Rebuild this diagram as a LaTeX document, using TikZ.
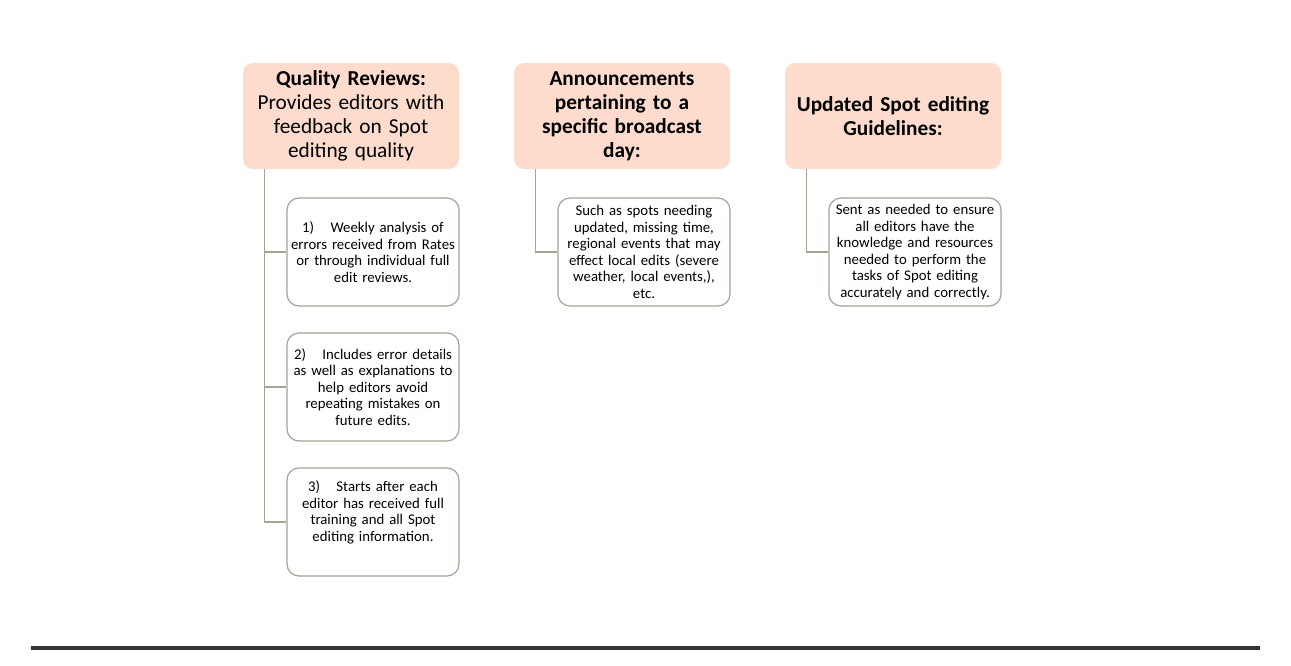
\documentclass[tikz,border=0pt]{standalone}
\usepackage{fontspec}
\setmainfont{Carlito}
\usepackage{xcolor}
\usetikzlibrary{positioning}

\definecolor{peach}{RGB}{253,220,206}
\definecolor{rim}{RGB}{166,162,148}
\definecolor{rule}{RGB}{51,51,51}
\hyphenpenalty=10000
\exhyphenpenalty=10000

\begin{document}
\begin{tikzpicture}[
    x=1pt, y=-1pt,
    header/.style={rectangle, rounded corners=10pt, fill=peach, minimum width=216pt, minimum height=106pt, text width=214pt, align=center, inner sep=0pt, font=\fontsize{21.3}{24}\selectfont},
    item/.style={draw=rim, line width=1.2pt, rectangle, rounded corners=12pt, fill=white, minimum width=172pt, minimum height=108pt, text width=170pt, align=center, inner sep=0pt, font=\fontsize{14.8}{16.5}\selectfont},
    link/.style={draw=rim, line width=1.2pt}
]
\useasboundingbox (0,0) rectangle (1291,665);

\node[header] (qual) at (351,116) {\textbf{Quality Reviews:}\\ Provides editors with\\ feedback on Spot\\ editing quality};
\node[header] (anno) at (622,116) {\textbf{Announcements}\\ \textbf{pertaining to a}\\ \textbf{specific broadcast}\\ \textbf{day:}};
\node[header] (guide) at (893,116) {\textbf{Updated Spot editing}\\ \textbf{Guidelines:}};

\node[item] (q1) at (373,252) {1)\hspace{1.1em}Weekly analysis of\\ errors received from Rates\\ or through individual full\\ edit reviews.};
\node[item] (q2) at (373,387) {2)\hspace{1.1em}Includes error details\\ as well as explanations to\\ help editors avoid\\ repeating mistakes on\\ future edits.};
\node[item] (q3) at (373,522) {3)\hspace{1.1em}Starts after each\\ editor has received full\\ training and all Spot\\ editing information.\\ \strut};
\node[item] (a1) at (644,252) {Such as spots needing\\ updated, missing time,\\ regional events that may\\ effect local edits (severe\\ weather, local events,),\\ etc.};
\node[item] (g1) at (915,252) {Sent as needed to ensure\\ all editors have the\\ knowledge and resources\\ needed to perform the\\ tasks of Spot editing\\ accurately and correctly.};

\draw[link] ([xshift=22pt]qual.south west) |- (q1.west);
\draw[link] ([xshift=22pt]qual.south west) |- (q2.west);
\draw[link] ([xshift=22pt]qual.south west) |- (q3.west);
\draw[link] ([xshift=22pt]anno.south west) |- (a1.west);
\draw[link] ([xshift=22pt]guide.south west) |- (g1.west);

\draw[rule, line width=4pt] (31,648) -- (1260,648);

\end{tikzpicture}
\end{document}
